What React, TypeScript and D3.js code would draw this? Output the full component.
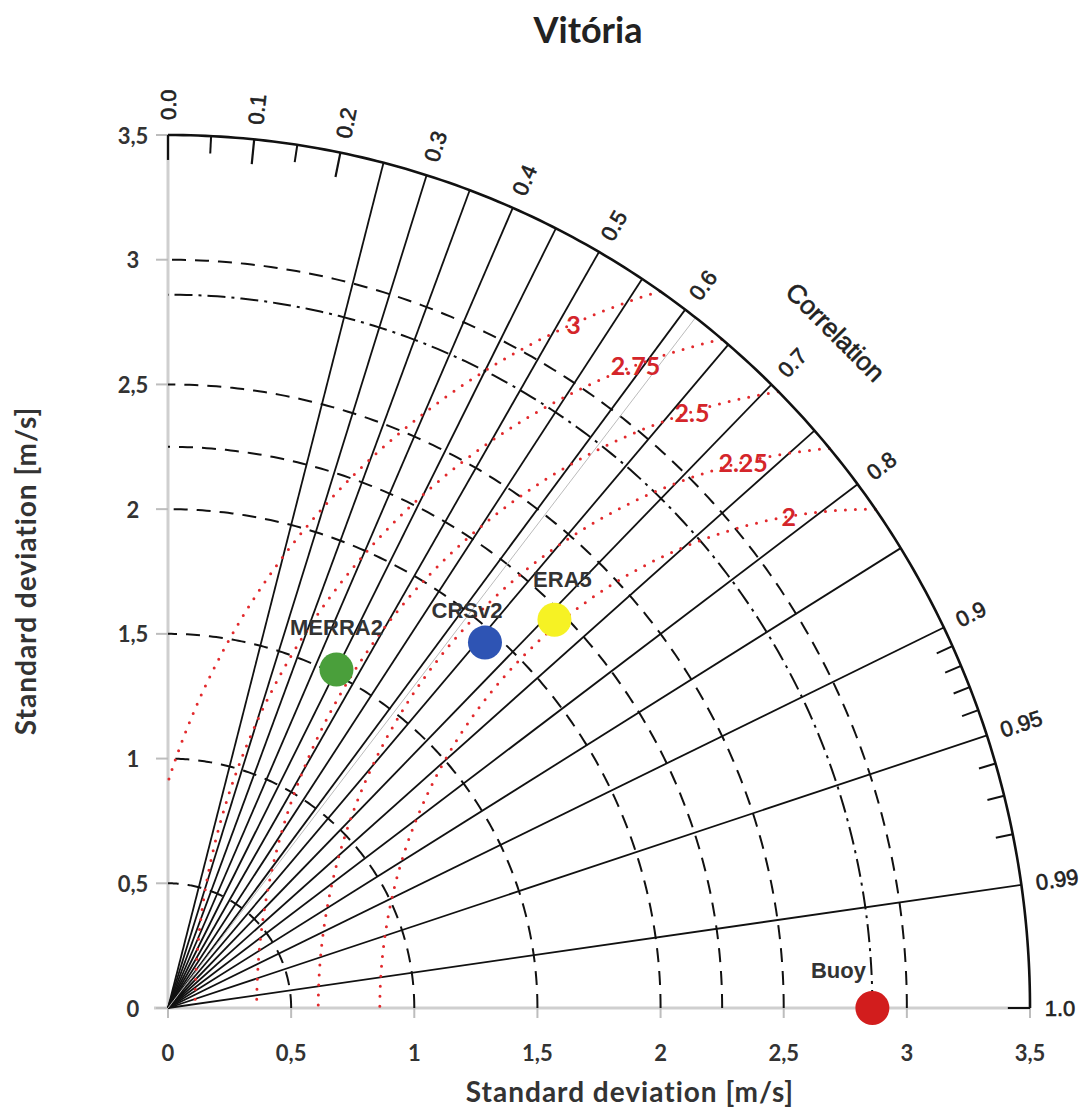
import React from 'react';
import * as d3 from 'd3';

// Taylor diagram data (std in m/s, correlation with the buoy)
const models = ['Buoy', 'MERRA2', 'CRSv2', 'ERA5'];
const modelStd = [2.86, 1.52, 1.95, 2.21];
const modelCorr = [1.0, 0.45, 0.66, 0.71];
const modelColors = ['#d21d1d', '#4a9f3b', '#2e54b4', '#f6f224'];

const refStd = 2.86;
const maxStd = 3.5;
const stdTicks = [0, 0.5, 1, 1.5, 2, 2.5, 3, 3.5];
const stdTickLabels = ['0', '0,5', '1', '1,5', '2', '2,5', '3', '3,5'];
const stdArcs = [0.5, 1, 1.5, 2, 2.25, 2.5, 3];
const rmsArcs = [2, 2.25, 2.5, 2.75, 3];
const rmsLabels = ['2', '2.25', '2.5', '2.75', '3'];
const corrLines = [0.25, 0.3, 0.35, 0.4, 0.45, 0.5, 0.55, 0.6, 0.65, 0.7, 0.75, 0.8, 0.85, 0.9, 0.95, 0.99];
const corrLabelValues = [0, 0.1, 0.2, 0.3, 0.4, 0.5, 0.6, 0.7, 0.8, 0.9, 0.95, 0.99, 1.0];
const corrLabelText = ['0.0', '0.1', '0.2', '0.3', '0.4', '0.5', '0.6', '0.7', '0.8', '0.9', '0.95', '0.99', '1.0'];
const corrMajorTicks = [0, 0.1, 0.2];
const corrMinorTicks = [0.05, 0.15, 0.91, 0.92, 0.93, 0.94, 0.96, 0.97, 0.98];

// label offsets in px (label relative to the marker)
const labelShift: Record<string, [number, number]> = {
  Buoy: [-34, -38],
  MERRA2: [0, -42],
  CRSv2: [-18, -32],
  ERA5: [8, -40],
};

export default function App() {
  const W = 1088;
  const H = 1114;
  const x = d3.scaleLinear().domain([0, maxStd]).range([168, 1030]);
  const y = d3.scaleLinear().domain([0, maxStd]).range([1008, 135]);
  const line = d3
    .line<[number, number]>()
    .x(d => x(d[0]))
    .y(d => y(d[1]));

  const polar = (r: number, c: number): [number, number] => [r * c, r * Math.sqrt(Math.max(0, 1 - c * c))];
  const pxAngle = (c: number) => {
    const p = polar(1, c);
    return (Math.atan2(y(0) - y(p[1]), x(p[0]) - x(0)) * 180) / Math.PI;
  };

  const quarter = (r: number) => line(d3.range(0, 90.01, 0.5).map(a => [r * Math.cos((a * Math.PI) / 180), r * Math.sin((a * Math.PI) / 180)] as [number, number]));

  const rmsPath = (r: number) => {
    const pts: [number, number][] = [];
    for (let i = 0; i <= 3600; i++) {
      const a = (Math.PI * i) / 3600;
      const px = refStd + r * Math.cos(a);
      const py = r * Math.sin(a);
      if (px >= 0 && px * px + py * py <= maxStd * maxStd) pts.push([px, py]);
    }
    return line(pts);
  };

  const rmsLabelPos = (r: number): [number, number] => {
    const R = 3.2;
    const px = (R * R - r * r + refStd * refStd) / (2 * refStd);
    return [px, Math.sqrt(R * R - px * px)];
  };

  const font = 'Lato, "Open Sans", sans-serif';
  const corrFont = '"Liberation Sans", Arial, sans-serif';

  return (
    <svg width={W} height={H} style={{ position: 'absolute', left: 0, top: 0, background: '#fff' }}>
      <rect width={W} height={H} fill="#fff" />
      <text x={588} y={43} textAnchor="middle" fontFamily={font} fontWeight={700} fontSize={36} fill="#222">
        Vitória
      </text>

      {/* axes */}
      <line x1={x(0)} x2={x(0)} y1={y(0)} y2={y(maxStd)} stroke="#cfcfcf" strokeWidth={3} />
      <line x1={x(0) - 14} x2={x(maxStd)} y1={y(0)} y2={y(0)} stroke="#cfcfcf" strokeWidth={3} />
      {stdTicks.map(t => (
        <g key={'t' + t}>
          <line x1={x(0) - 12} x2={x(0)} y1={y(t)} y2={y(t)} stroke="#bdbdbd" strokeWidth={2} />
          <line x1={x(t)} x2={x(t)} y1={y(0)} y2={y(0) + 10} stroke="#bdbdbd" strokeWidth={2} />
        </g>
      ))}

      {/* std arcs */}
      {stdArcs.map(r => (
        <path key={'s' + r} d={quarter(r) || ''} fill="none" stroke="#111" strokeWidth={2} strokeDasharray="14 9" />
      ))}
      <path d={quarter(refStd) || ''} fill="none" stroke="#111" strokeWidth={2} strokeDasharray="18 6 3 6" />

      {/* correlation rays */}
      {corrLines.map(c => {
        const p = polar(maxStd, c);
        return <line key={'c' + c} x1={x(0)} y1={y(0)} x2={x(p[0])} y2={y(p[1])} stroke="#111" strokeWidth={1.8} />;
      })}
      {(() => {
        const p = polar(maxStd, 0.612);
        return <line x1={x(0)} y1={y(0)} x2={x(p[0])} y2={y(p[1])} stroke="#bbb" strokeWidth={1} />;
      })()}

      {/* RMS arcs */}
      {rmsArcs.map(r => (
        <path key={'r' + r} d={rmsPath(r) || ''} fill="none" stroke="#e2292c" strokeWidth={3} strokeDasharray="0 10" strokeLinecap="round" />
      ))}
      {rmsArcs.map((r, i) => {
        const p = rmsLabelPos(r);
        return (
          <text key={'rl' + r} x={x(p[0])} y={y(p[1])} textAnchor="middle" dominantBaseline="central" fontFamily={font} fontWeight={700} fontSize={25} fill="#d4252a">
            {rmsLabels[i]}
          </text>
        );
      })}

      {/* outer arc and ticks */}
      <path d={quarter(maxStd) || ''} fill="none" stroke="#111" strokeWidth={2.6} />
      {corrMajorTicks.map(c => {
        const a = polar(maxStd, c);
        const b = polar(maxStd - 0.1, c);
        return <line key={'mj' + c} x1={x(a[0])} y1={y(a[1])} x2={x(b[0])} y2={y(b[1])} stroke="#111" strokeWidth={2.2} />;
      })}
      {corrMinorTicks.map(c => {
        const a = polar(maxStd, c);
        const b = polar(maxStd - 0.07, c);
        return <line key={'mn' + c} x1={x(a[0])} y1={y(a[1])} x2={x(b[0])} y2={y(b[1])} stroke="#111" strokeWidth={2} />;
      })}
      <line x1={x(maxStd - 0.09)} x2={x(maxStd)} y1={y(0)} y2={y(0)} stroke="#111" strokeWidth={2} />

      {/* correlation labels */}
      {corrLabelValues.map((c, i) => {
        const p = polar(3.56, c);
        return (
          <text
            key={'cl' + c}
            transform={`translate(${x(p[0])},${y(p[1])}) rotate(${-pxAngle(c)})`}
            dominantBaseline="central"
            fontFamily={corrFont}
            fontSize={22}
            fill="#222"
            stroke="#222"
            strokeWidth={0.6}
          >
            {corrLabelText[i]}
          </text>
        );
      })}
      <text
        transform={`translate(${x(2.71)},${y(2.71)}) rotate(45)`}
        textAnchor="middle"
        dominantBaseline="central"
        fontFamily={corrFont}
        fontSize={26}
        fill="#222"
        stroke="#222"
        strokeWidth={0.6}
      >
        Correlation
      </text>

      {/* models */}
      {models.map((m, i) => {
        const p = polar(modelStd[i], modelCorr[i]);
        const s = labelShift[m];
        return (
          <g key={m}>
            <circle cx={x(p[0])} cy={y(p[1])} r={17} fill={modelColors[i]} />
            <text x={x(p[0]) + s[0]} y={y(p[1]) + s[1]} textAnchor="middle" dominantBaseline="central" fontFamily={corrFont} fontWeight={700} fontSize={22} fill="#333">
              {m}
            </text>
          </g>
        );
      })}

      {/* tick labels */}
      {stdTicks.map((t, i) => (
        <g key={'tl' + t}>
          <text x={133} y={y(t)} textAnchor="middle" dominantBaseline="central" fontFamily={font} fontWeight={700} fontSize={22} fill="#333">
            {stdTickLabels[i]}
          </text>
          <text x={x(t)} y={1052} textAnchor="middle" dominantBaseline="central" fontFamily={font} fontWeight={700} fontSize={22} fill="#333">
            {stdTickLabels[i]}
          </text>
        </g>
      ))}

      <text x={630} y={1102} textAnchor="middle" fontFamily={font} fontWeight={700} fontSize={28} letterSpacing={1} fill="#333">
        Standard deviation [m/s]
      </text>
      <text transform="translate(36,571) rotate(-90)" textAnchor="middle" fontFamily={font} fontWeight={700} fontSize={28} letterSpacing={1} fill="#333">
        Standard deviation [m/s]
      </text>
    </svg>
  );
}
